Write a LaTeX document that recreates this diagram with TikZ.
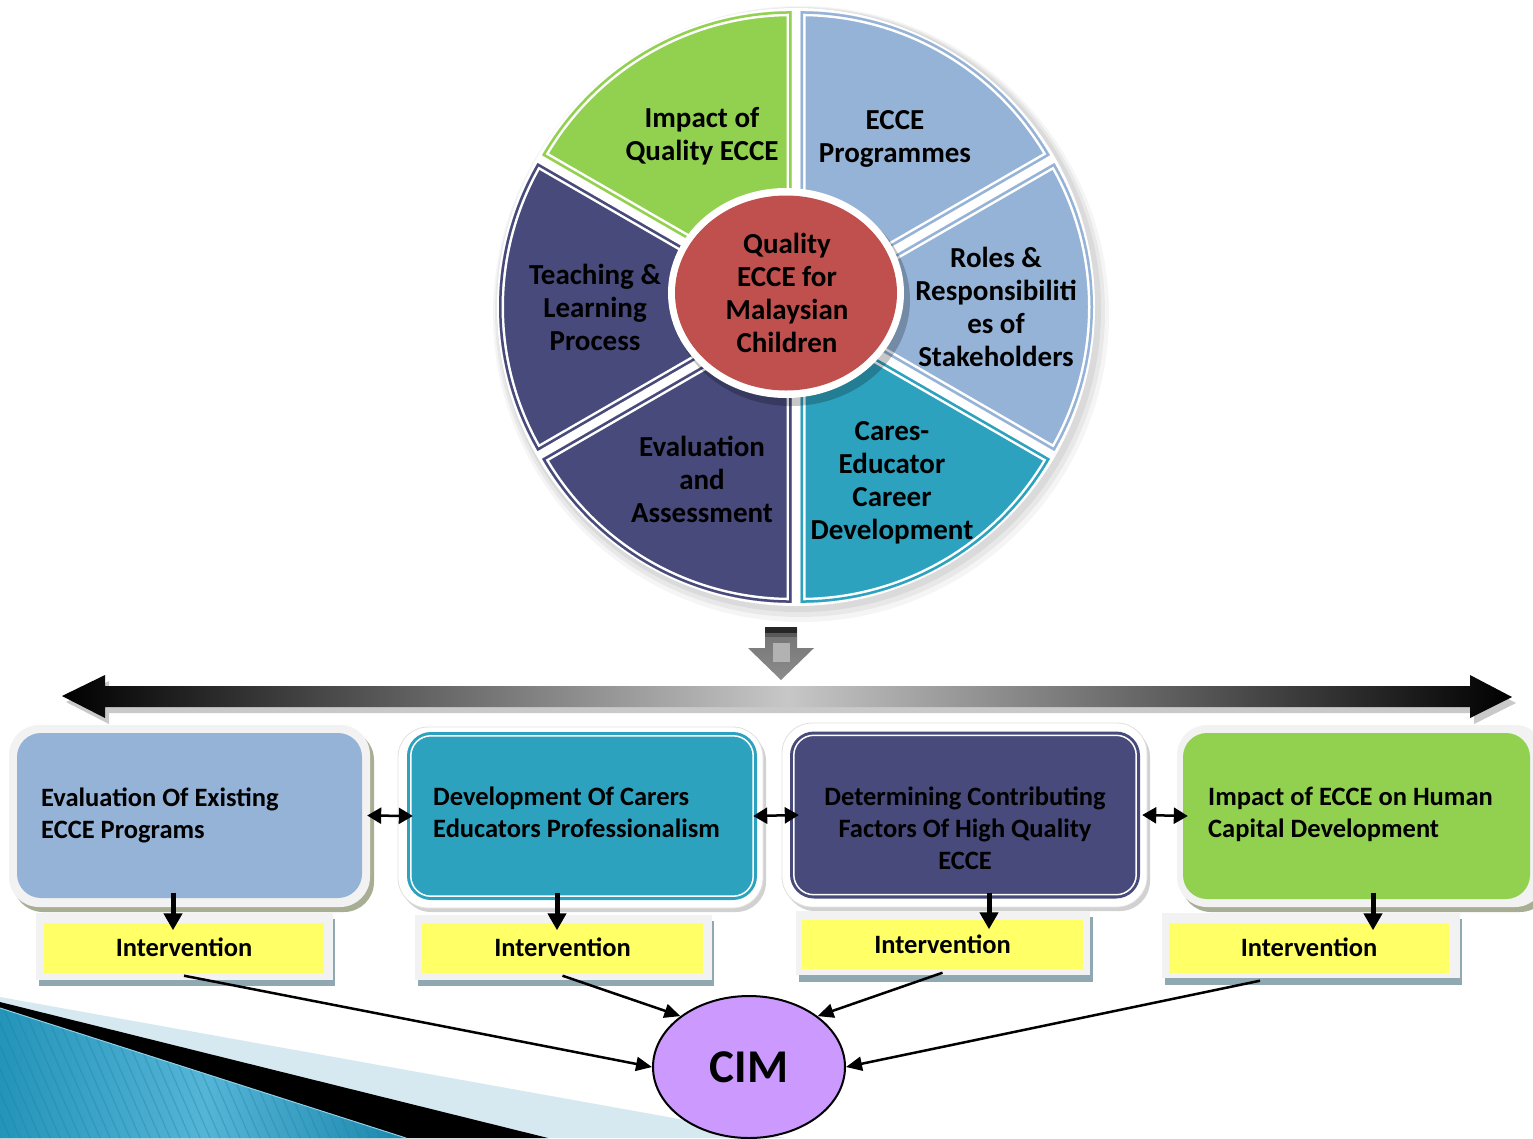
\documentclass[tikz,border=0pt]{standalone}
\usepackage{fontspec}
\setmainfont{Carlito}
\usetikzlibrary{arrows.meta,shapes.geometric,calc}
\definecolor{cgreen}{HTML}{92D050}
\definecolor{clblue}{HTML}{95B3D7}
\definecolor{cnavy}{HTML}{474A7A}
\definecolor{cteal}{HTML}{2DA2BE}
\definecolor{cred}{HTML}{C0504D}
\definecolor{cpurple}{HTML}{CC99FF}
\definecolor{cyellow}{HTML}{FFFF66}
\definecolor{cframe}{HTML}{F2F2F2}
\definecolor{colive}{HTML}{A8AE94}
\definecolor{cshad}{HTML}{8FA8B2}
\definecolor{cpale}{HTML}{D6E9F1}
\definecolor{cstripe}{HTML}{1F7FA3}
\definecolor{cwedgeA}{HTML}{2494B9}
\definecolor{cwedgeB}{HTML}{55B5D7}
\definecolor{cwedgeC}{HTML}{1B86AC}
\definecolor{chigh}{HTML}{8FD0E6}
\newcommand\wheelsector[3]{%
  \pgfmathsetmacro\wmid{(#1+#2)/2}%
  \begin{scope}
    \clip ($(W)+(\wmid:\wdist)$) -- ++(#1:\wrad) arc[start angle=#1, end angle=#2, radius=\wrad] -- cycle;
    \fill[#3] ($(W)+(\wmid:\wdist)$) -- ++(#1:\wrad) arc[start angle=#1, end angle=#2, radius=\wrad] -- cycle;
    \draw[white, line width=10pt] ($(W)+(\wmid:\wdist)$) -- ++(#1:\wrad) arc[start angle=#1, end angle=#2, radius=\wrad] -- cycle;
    \draw[#3, line width=5pt] ($(W)+(\wmid:\wdist)$) -- ++(#1:\wrad) arc[start angle=#1, end angle=#2, radius=\wrad] -- cycle;
  \end{scope}}
\def\wdist{9}
\def\wrad{288}
\begin{document}
\begin{tikzpicture}[x=1pt,y=-1pt,
  wheeltext/.style={font=\bfseries\fontsize{29}{33}\selectfont, align=center, text=black, inner sep=0pt},
  boxtext/.style={font=\bfseries\fontsize{26.5}{32}\selectfont, inner sep=0pt, text=black},
  mainbox/.style={rectangle, rounded corners=24pt, minimum width=#1, inner sep=0pt},
  yellowbox/.style={rectangle, fill=cyellow, inner sep=0pt, minimum width=280pt, minimum height=50pt,
     font=\bfseries\fontsize{26.5}{32}\selectfont},
  downarr/.style={line width=5pt, -{Triangle[length=17pt,width=18pt]}},
  dblarr/.style={line width=2.5pt, {Triangle[length=14pt,width=16pt]}-{Triangle[length=14pt,width=16pt]}},
  cimarr/.style={line width=2.5pt, -{Triangle[length=16pt,width=14pt]}},
  olivesh/.style={fill=colive, rounded corners=30pt},
  greysh/.style={fill=black!18, rounded corners=30pt},
  framebox/.style={fill=cframe, rounded corners=30pt},
  whiteframe/.style={fill=white, draw=black!12, line width=0.8pt, rounded corners=30pt}
]
\useasboundingbox (0,0) rectangle (1533,1138);
\fill[white] (0,0) rectangle (1533,1138);

% ---------- bottom-left decoration ----------
\fill[cpale] (0,997) -- (785,1138) -- (0,1138) -- cycle;
\fill[black] (0,1002) -- (548,1138) -- (0,1138) -- cycle;
\begin{scope}
  \clip (0,1008) -- (406,1138) -- (0,1138) -- cycle;
  \shade[left color=cwedgeA, right color=cwedgeC, middle color=cwedgeB] (0,995) rectangle (410,1140);
  \foreach \i in {-80,-70,...,420} \draw[cstripe, opacity=.35, line width=1.2pt] (\i,1000) -- ++(61,140);
\end{scope}
\draw[chigh, line width=1pt] (0,1008) -- (406,1138);

% ---------- wheel ----------
\coordinate (W) at (796,307);
\fill[black, opacity=.04] (801,314) circle[radius=308];
\fill[black, opacity=.05] (800,312) circle[radius=305];
\fill[black, opacity=.06] (799,310) circle[radius=302];
\fill[white] (W) circle[radius=299];
\wheelsector{-90}{-30}{clblue}
\wheelsector{-30}{30}{clblue}
\wheelsector{30}{90}{cteal}
\wheelsector{90}{150}{cnavy}
\wheelsector{150}{210}{cnavy}
\wheelsector{210}{270}{cgreen}

\fill[black, opacity=.22] (791,300) ellipse[x radius=119, y radius=106];
\node[ellipse, fill=white, minimum width=236pt, minimum height=210pt, inner sep=0pt] (ring) at (786,293) {};
\node[ellipse, fill=cred, minimum width=222pt, minimum height=195pt, inner sep=0pt] (hub) at (786,293) {};
\node[wheeltext] (hubtext) at (787,292.5) {Quality\\ECCE for\\Malaysian\\Children};

\node[wheeltext] (s1) at (702,136.5) {Impact of\\Quality ECCE};
\node[wheeltext] (s2) at (895,138.5) {ECCE\\Programmes};
\node[wheeltext] (s3) at (996,307) {Roles \&\\Responsibiliti\\es of\\Stakeholders};
\node[wheeltext] (s4) at (892,483) {Cares-\\Educator\\Career\\Development};
\node[wheeltext] (s5) at (702,479.5) {Evaluation\\and\\Assessment};
\node[wheeltext] (s6) at (595,307) {Teaching \&\\Learning\\Process};

% ---------- small block arrow ----------
\shade[top color=black!55, bottom color=black!45] (765,628) -- (797,628) -- (797,648) -- (814,648) -- (781,680) -- (748,648) -- (765,648) -- cycle;
\fill[black!85] (765,627) rectangle (797,633);
\fill[black!65] (765,633) rectangle (797,637);
\fill[black!30] (773,643) rectangle (790,662);

% ---------- big double arrow ----------
\fill[black!35, opacity=.6] (66,702) -- (109,681) -- (109,692) -- (1474,692) -- (1474,681) -- (1516,703) -- (1474,724) -- (1474,713) -- (109,713) -- (109,724) -- cycle;
\shade[left color=black, right color=black, middle color=black!22]
  (62,696) -- (105,675) -- (105,686) -- (1470,686) -- (1470,675) -- (1512,697) -- (1470,718) -- (1470,707) -- (105,707) -- (105,718) -- cycle;

% ---------- main boxes ----------
\fill[olivesh] (13,730) rectangle (374,912);
\fill[framebox] (9,725) rectangle (370,907);
\node[mainbox=345pt, minimum height=165pt, fill=clblue] (b1) at (189.5,815.5) {};

\fill[greysh] (401,731) rectangle (766,912);
\fill[whiteframe] (398,727) rectangle (763,908);
\node[mainbox=350pt, minimum height=168pt, fill=cteal] (b2) at (582,816) {};
\draw[white, line width=1.5pt, rounded corners=20pt] ([shift={(4pt,-4pt)}]b2.north west) rectangle ([shift={(-4pt,4pt)}]b2.south east);

\fill[greysh] (785,727) rectangle (1150,911);
\fill[whiteframe] (782,723) rectangle (1147,907);
\node[mainbox=350pt, minimum height=167pt, fill=cnavy] (b3) at (965,815) {};
\draw[white, line width=1.5pt, rounded corners=20pt] ([shift={(4pt,-4pt)}]b3.north west) rectangle ([shift={(-4pt,4pt)}]b3.south east);

\fill[olivesh] (1181,730) rectangle (1550,912);
\fill[framebox] (1177,725) rectangle (1545,907);
\node[mainbox=347pt, minimum height=166pt, fill=cgreen] (b4) at (1356.5,816) {};

\node[boxtext, anchor=west, align=left] (t1) at (41,815) {Evaluation Of Existing\\ECCE Programs};
\node[boxtext, anchor=west, align=left] (t2) at (433,812) {Development Of Carers\\Educators Professionalism};
\node[boxtext, align=center] (t3) at (965,828.5) {Determining Contributing\\Factors Of High Quality\\ECCE};
\node[boxtext, anchor=west, align=left] (t4) at (1208,814) {Impact of ECCE on Human\\Capital Development};

% ---------- intervention boxes ----------
\fill[cshad] (39,919) rectangle (335,986);
\fill[cframe] (36,913) rectangle (333,980);
\node[yellowbox] (i1) at (184,947.5) {Intervention};

\fill[cshad] (418,921) rectangle (714,986);
\fill[cframe] (415,915) rectangle (712,980);
\node[yellowbox, minimum width=281pt] (i2) at (562.5,947.5) {Intervention};

\fill[cshad] (799,917) rectangle (1093,982);
\fill[cframe] (796,911) rectangle (1090,975);
\node[yellowbox, minimum width=281pt, minimum height=49pt] (i3) at (942.5,944) {Intervention};

\fill[cshad] (1165,919) rectangle (1462,985);
\fill[cframe] (1162,913) rectangle (1460,978);
\node[yellowbox] (i4) at (1309,947.5) {Intervention};

% ---------- arrows between boxes ----------
\draw[dblarr] ([xshift=5pt]b1.east) -- ([xshift=6pt]b2.west);
\draw[dblarr] ([xshift=-4pt]b2.east) -- ([xshift=9pt]b3.west);
\draw[dblarr] ([xshift=2pt]b3.east) -- ([xshift=5pt]b4.west);

\draw[downarr] ([xshift=-16.5pt,yshift=5pt]b1.south) -- ([xshift=-11pt,yshift=-8pt]i1.north);
\draw[downarr] ([xshift=-25pt,yshift=7pt]b2.south) -- ([xshift=-5.5pt,yshift=-8pt]i2.north);
\draw[downarr] ([xshift=24pt,yshift=5.5pt]b3.south) -- ([xshift=46.5pt,yshift=-10pt]i3.north);
\draw[downarr] ([xshift=16.5pt,yshift=6pt]b4.south) -- ([xshift=64pt,yshift=-8pt]i4.north);

% ---------- CIM ----------
\node[ellipse, draw=black, line width=2pt, fill=cpurple, minimum width=192pt, minimum height=142pt, inner sep=0pt,
  font=\bfseries\fontsize{47}{50}\selectfont] (cim) at (749,1067) {CIM};

\draw[cimarr] ([yshift=-3pt]i1.south) -- (cim.west);
\draw[cimarr] ([yshift=-3pt]i2.south) -- (cim.north west);
\draw[cimarr] ([yshift=-4pt]i3.south) -- (cim.north east);
\draw[cimarr] ([xshift=-49pt,yshift=-8pt]i4.south) -- (cim.east);
\end{tikzpicture}
\end{document}
